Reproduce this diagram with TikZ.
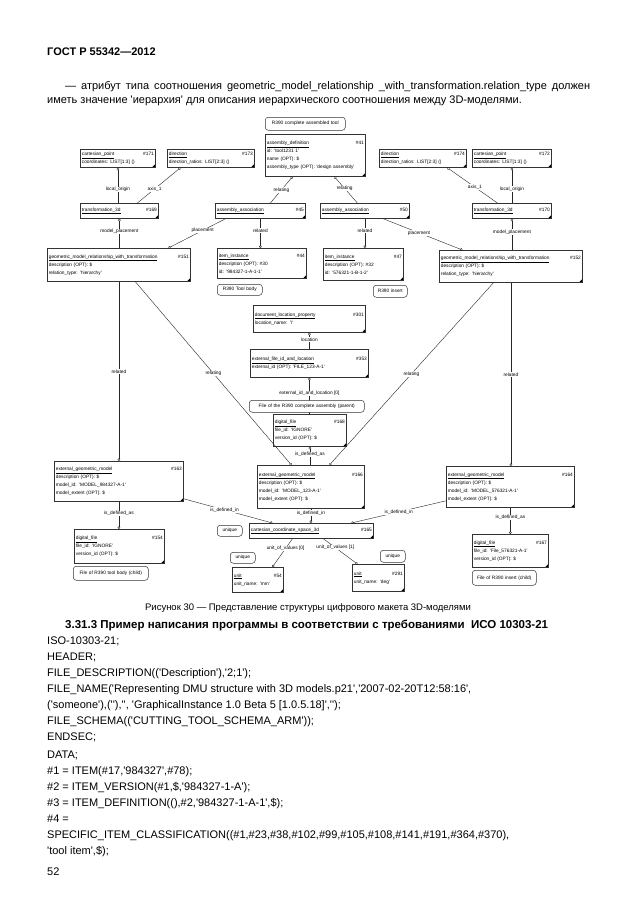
\documentclass[tikz,border=0pt]{standalone}
\usepackage{fontspec}
\setmainfont{Liberation Sans}[Ligatures=TeXOff]
\usetikzlibrary{arrows.meta}

\newcommand{\dfont}{\fontsize{4.8}{8}\selectfont}
\newcommand{\ehead}[2]{\underline{#1}\hfill\##2}

\tikzset{
  ent/.style={draw=black!80, line width=0.8pt, fill=white, anchor=north west,
    inner xsep=1.5pt, inner ysep=1.2pt, align=left, font=\dfont,
    path picture={\fill[black] (path picture bounding box.south east) -- ++(-3.5pt,0pt) -- ++(3.5pt,3.5pt) -- cycle;}},
  note/.style={draw=black!80, line width=0.5pt, rounded corners=3pt, fill=white, anchor=north west,
    inner sep=1pt, font=\dfont, align=center},
  rel/.style={draw=black!85, line width=0.4pt},
  lbl/.style={fill=white, inner sep=0.5pt, font=\dfont},
  ostart/.style={{Circle[open,length=2.6pt]}-},
  oend/.style={-{Circle[open,length=2.6pt]}},
  page/.style={anchor=west, inner sep=0pt, font=\fontsize{11}{13}\selectfont},
}

\begin{document}
\begin{tikzpicture}[x=1pt, y=-1pt]
\useasboundingbox (0,0) rectangle (630,913);
\fill[white] (0,0) rectangle (630,913);

% page text
\node[page, font=\bfseries\fontsize{11}{13}\selectfont] (gost) at (47,52) {ГОСТ Р 55342—2012};
\node[page] (para1) at (65,87) {\makebox[525pt][s]{— атрибут типа соотношения geometric\_model\_relationship \_with\_transformation.relation\_type должен}};
\node[page] (para2) at (47,101) {иметь значение 'иерархия' для описания иерархического соотношения между 3D-моделями.};

% entities, top row
\node[ent, text width=72pt, minimum height=18pt] (cp171) at (80,149) {\ehead{cartesian\_point}{171}\\coordinates: LIST[1:3] ()};
\node[ent, text width=84pt, minimum height=18pt] (dir173) at (167,149) {\ehead{direction}{173}\\direction\_ratios: LIST[2:3] ()};
\node[ent, text width=97pt, minimum height=42pt] (ad41) at (265,134) {\ehead{assembly\_definition}{41}\\id: 'tool1231 1'\\name (OPT): \$\\assembly\_type (OPT): 'design assembly'};
\node[ent, text width=84pt, minimum height=18pt] (dir174) at (379,149) {\ehead{direction}{174}\\direction\_ratios: LIST[2:3] ()};
\node[ent, text width=76pt, minimum height=18pt] (cp172) at (472,149) {\ehead{cartesian\_point}{172}\\coordinates: LIST[1:3] ()};

\node[ent, text width=75pt, minimum height=15pt] (tr169) at (80,203) {\ehead{transformation\_3d}{169}};
\node[ent, text width=87pt, minimum height=15pt] (aa45) at (215,203) {\ehead{assembly\_association}{45}};
\node[ent, text width=86pt, minimum height=15pt] (aa50) at (320,203) {\ehead{assembly\_association}{50}};
\node[ent, text width=76pt, minimum height=15pt] (tr170) at (472,203) {\ehead{transformation\_3d}{170}};

\node[ent, text width=140pt, minimum height=33pt] (gm151) at (47,248) {\ehead{geometric\_model\_relationship\_with\_transformation}{151}\\description (OPT): \$\\relation\_type: 'hierarchy'};
\node[ent, text width=86pt, minimum height=30pt] (ii44) at (217,248) {\ehead{item\_instance}{44}\\description (OPT): \#30\\id: '984327-1-A-1-1'};
\node[ent, text width=77pt, minimum height=32pt] (ii47) at (323,248) {\ehead{item\_instance}{47}\\description (OPT): \#32\\id: '576321-1-B-1-2'};
\node[ent, text width=140pt, minimum height=32pt] (gm152) at (439,250) {\ehead{geometric\_model\_relationship\_with\_transformation}{152}\\description (OPT): \$\\relation\_type: 'hierarchy'};

% middle column
\node[ent, text width=109pt, minimum height=27pt] (dlp301) at (253,305) {\ehead{document\_location\_property}{301}\\location\_name: '\textbackslash'};
\node[ent, text width=115pt, minimum height=28pt] (ef353) at (250,349) {\ehead{external\_file\_id\_and\_location}{353}\\external\_id (OPT): 'FILE\_123-A-1'};
\node[ent, text width=70pt, minimum height=32pt] (df168) at (273,414) {\ehead{digital\_file}{168}\\file\_id: 'IGNORE'\\version\_id (OPT): \$};
\node[ent, text width=104pt, minimum height=43pt] (eg166) at (257,465) {\ehead{external\_geometric\_model}{166}\\description (OPT): \$\\model\_id: 'MODEL\_123-A-1'\\model\_extent (OPT): \$};
\node[ent, text width=121pt, minimum height=15pt] (cs165) at (249,523) {\ehead{cartesian\_coordinate\_space\_3d}{165}};
\node[ent, text width=48pt, minimum height=25pt] (un54) at (232,567) {\ehead{unit}{54}\\unit\_name: 'mm'};
\node[ent, text width=49pt, minimum height=27pt] (un291) at (352,564) {\ehead{unit}{291}\\unit\_name: 'deg'};

% left and right columns
\node[ent, text width=126pt, minimum height=40pt] (eg163) at (54,461) {\ehead{external\_geometric\_model}{163}\\description (OPT): \$\\model\_id: 'MODEL\_984327-A-1'\\model\_extent (OPT): \$};
\node[ent, text width=87pt, minimum height=34pt] (df154) at (74,529) {\ehead{digital\_file}{154}\\file\_id: 'IGNORE'\\version\_id (OPT): \$};
\node[ent, text width=125pt, minimum height=41pt] (eg164) at (446,466) {\ehead{external\_geometric\_model}{164}\\description (OPT): \$\\model\_id: 'MODEL\_576321-A-1'\\model\_extent (OPT): \$};
\node[ent, text width=73pt, minimum height=33pt] (df167) at (472,534) {\ehead{digital\_file}{167}\\file\_id: 'File\_576321-A-1'\\version\_id (OPT): \$};

% relations
\draw[rel, ostart] (cp171.south) -- node[lbl, pos=0.62] {local\_origin} (cp171.south |- tr169.north);
\draw[rel, ostart] ([xshift=-30.5pt]dir173.south) -- node[lbl, pos=0.6] {axis\_1} ([xshift=18pt]tr169.north);
\draw[rel, ostart] ([xshift=-23pt]ad41.south) -- node[lbl, pos=0.5] {relating} ([xshift=10pt]aa45.north);
\draw[rel, ostart] ([xshift=19pt]ad41.south) -- node[lbl, pos=0.45] {relating} ([xshift=-7.5pt]aa50.north);
\draw[rel, ostart] ([xshift=24.5pt]dir174.south) -- node[lbl, pos=0.55] {axis\_1} ([xshift=-14.5pt]tr170.north);
\draw[rel, ostart] (cp172.south) -- node[lbl, pos=0.6] {local\_origin} (cp172.south |- tr170.north);

\draw[rel, ostart] (tr169.south) -- node[lbl, pos=0.43] {model\_placement} (tr169.south |- gm151.north);
\draw[rel, ostart] (tr170.south) -- node[lbl, pos=0.43] {model\_placement} (tr170.south |- gm152.north);
\draw[rel, oend] ([xshift=-35pt]aa45.south) -- node[lbl, pos=0.4] {placement} ([xshift=49.5pt]gm151.north);
\draw[rel, oend] (aa45.south) -- node[lbl, pos=0.4] {related} (aa45.south |- ii44.north);
\draw[rel, oend] (aa50.south) -- node[lbl, pos=0.4] {related} (aa50.south |- ii47.north);
\draw[rel, oend] ([xshift=18.5pt]aa50.south) -- node[lbl, pos=0.45] {placement} ([xshift=-48.5pt]gm152.north);

\draw[rel, ostart] (dlp301.south) -- node[lbl, pos=0.4] {location} (dlp301.south |- ef353.north);
\draw[rel, ostart] (ef353.south) -- node[lbl, pos=0.44] {external\_id\_and\_location [0]} (ef353.south |- df168.north);
\draw[rel, ostart] (df168.south) -- node[lbl, pos=0.42] {is\_defined\_as} (df168.south |- eg166.north);
\draw[rel, oend] (eg166.south) -- node[lbl, pos=0.3] {is\_defined\_in} (eg166.south |- cs165.north);

\draw[rel, oend] ([xshift=16.5pt]gm151.south) -- node[lbl, pos=0.5] {relating} ([xshift=-19.5pt]eg166.north);
\draw[rel, oend] ([xshift=-17.5pt]gm152.south) -- node[lbl, pos=0.5] {relating} ([xshift=18.5pt]eg166.north);
\draw[rel, oend] (gm151.south) -- node[lbl, pos=0.5] {related} (gm151.south |- eg163.north);
\draw[rel, oend] (gm152.south) -- node[lbl, pos=0.5] {related} (gm152.south |- eg164.north);
\draw[rel, oend] (eg163.south) -- node[lbl, pos=0.43] {is\_defined\_as} (eg163.south |- df154.north);
\draw[rel, oend] (eg164.south) -- node[lbl, pos=0.37] {is\_defined\_as} (eg164.south |- df167.north);
\draw[rel, oend] ([yshift=3pt]eg163.south east) -- node[lbl, pos=0.46] {is\_defined\_in} ([xshift=-39pt]cs165.north);
\draw[rel, oend] ([yshift=7pt]eg164.south west) -- node[lbl, pos=0.5] {is\_defined\_in} ([xshift=40pt]cs165.north);
\draw[rel, oend] ([xshift=-19pt]cs165.south) -- node[lbl, pos=0.34] {unit\_of\_values [0]} ([xshift=14.5pt]un54.north);
\draw[rel, oend] ([xshift=12pt]cs165.south) -- node[lbl, pos=0.35] {unit\_of\_values [1]} ([xshift=-21pt]un291.north);

% notes
\node[note, text width=78pt, minimum height=13pt] (n41) at (265,117) {R390 complete assembled tool};
\node[note, text width=43pt, minimum height=11pt] (n44) at (217,284) {R390 Tool body};
\node[note, text width=32pt, minimum height=12pt] (n47) at (373,285) {R390 insert};
\node[note, text width=113pt, minimum height=12pt] (n168) at (249,400) {File of the R390 complete assembly (parent)};
\node[note, text width=23pt, minimum height=11pt] (u165) at (217,525) {unique};
\node[note, text width=23pt, minimum height=11pt] (u54) at (230,552) {unique};
\node[note, text width=23pt, minimum height=12pt] (u291) at (380,550) {unique};
\node[note, text width=73pt, minimum height=14pt] (n154) at (73,566) {File of R390 tool body (child)};
\node[note, text width=62pt, minimum height=15pt] (n167) at (472,570) {File of R390 insert (child)};

% caption and listing
\node[anchor=center, inner sep=0pt, font=\fontsize{9.5}{11}\selectfont] (cap) at (308,608) {Рисунок 30 — Представление структуры цифрового макета 3D-моделями};
\node[page, font=\bfseries\fontsize{11.5}{13}\selectfont] (head) at (65,625) {3.31.3 Пример написания программы в соответствии с требованиями\ \ ИСО 10303-21};
\node[anchor=north west, align=left, inner sep=0pt, font=\fontsize{11}{16}\selectfont] (code) at (47,637) {ISO-10303-21;\\
HEADER;\\
FILE\_DESCRIPTION(('Description'),'2;1');\\
FILE\_NAME('Representing DMU structure with 3D models.p21','2007-02-20T12:58:16',\\
('someone'),(''),'', 'GraphicalInstance 1.0 Beta 5 [1.0.5.18]','');\\
FILE\_SCHEMA(('CUTTING\_TOOL\_SCHEMA\_ARM'));\\
ENDSEC;\\[2pt]
DATA;\\
\#1 = ITEM(\#17,'984327',\#78);\\
\#2 = ITEM\_VERSION(\#1,\$,'984327-1-A');\\
\#3 = ITEM\_DEFINITION((),\#2,'984327-1-A-1',\$);\\
\#4 =\\
SPECIFIC\_ITEM\_CLASSIFICATION((\#1,\#23,\#38,\#102,\#99,\#105,\#108,\#141,\#191,\#364,\#370),\\
'tool item',\$);};
\node[page] (pnum) at (47,872) {52};
\end{tikzpicture}
\end{document}
